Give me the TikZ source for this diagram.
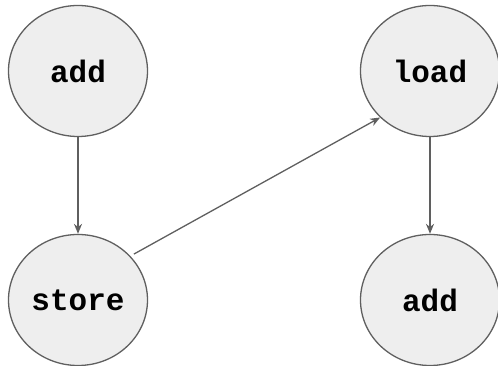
\documentclass[tikz,border=0pt]{standalone}
\usepackage{fontspec}
\setmonofont{Liberation Mono}
\usetikzlibrary{arrows.meta,shapes.geometric,positioning}
\definecolor{opfill}{HTML}{EEEEEE}
\definecolor{opline}{HTML}{5F5F5F}
\tikzset{
  op/.style={ellipse, draw=opline, fill=opfill, line width=1.3pt,
    minimum width=139pt, minimum height=131pt, inner sep=0pt,
    font=\ttfamily\bfseries\fontsize{31}{31}\selectfont},
  flow/.style={draw=opline, line width=1.3pt, -{Stealth[length=10pt,width=8pt]}}
}
\begin{document}
\begin{tikzpicture}[x=1pt,y=1pt,node distance=229pt]
\useasboundingbox (0,0) rectangle (498,366);
\node[op] (add) at (78,295) {add};
\node[op] (store) [below of=add] {store};
\node[op] (load) [node distance=352pt, right of=add] {load};
\node[op] (addb) [below of=load] {add};

\draw[flow] (add) -- (store);
\draw[flow, shorten <=4pt] (store.40) -- (load.223);
\draw[flow] (load) -- (addb);
\end{tikzpicture}
\end{document}
